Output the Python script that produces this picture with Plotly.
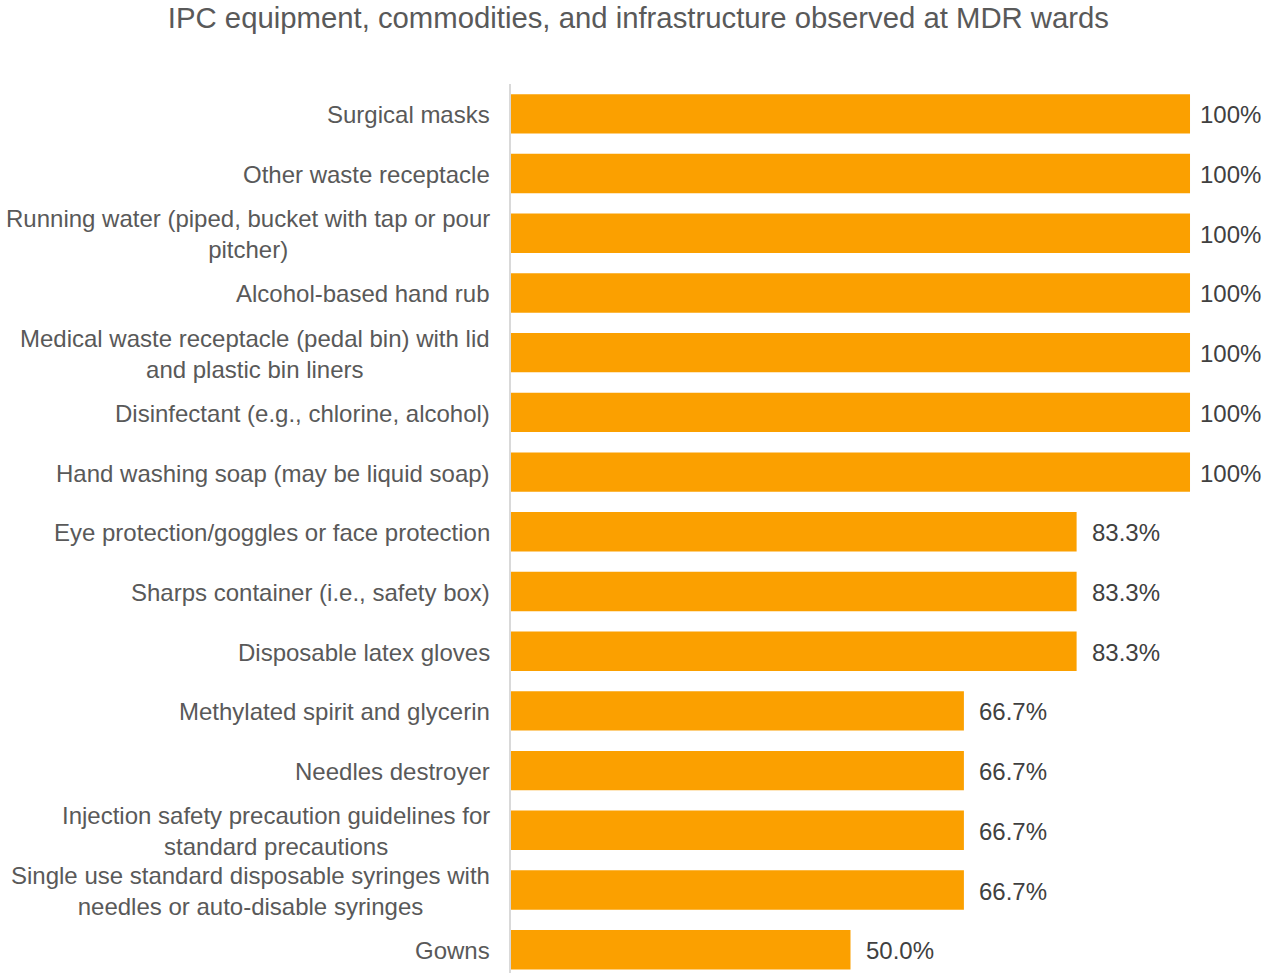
import plotly.graph_objects as go

# Items observed at MDR wards, top to bottom
categories = [
    "Surgical masks",
    "Other waste receptacle",
    "Running water (piped, bucket with tap or pour<br>pitcher)",
    "Alcohol-based hand rub",
    "Medical waste receptacle (pedal bin) with lid<br>and plastic bin liners",
    "Disinfectant (e.g., chlorine, alcohol)",
    "Hand washing soap (may be liquid soap)",
    "Eye protection/goggles or face protection",
    "Sharps container (i.e., safety box)",
    "Disposable latex gloves",
    "Methylated spirit and glycerin",
    "Needles destroyer",
    "Injection safety precaution guidelines for<br>standard precautions",
    "Single use standard disposable syringes with<br>needles or auto-disable syringes",
    "Gowns",
]

# Share of wards where the item was observed (%)
percent_observed = [100, 100, 100, 100, 100, 100, 100, 83.3, 83.3, 83.3, 66.7, 66.7, 66.7, 66.7, 50.0]

BAR_COLOR = "#FBA000"
LABEL_COLOR = "#595959"
VALUE_COLOR = "#404040"
FONT = "Liberation Sans, Arial, sans-serif"


def fmt(v):
    return "100%" if v >= 100 else f"{v:.1f}%"


fig = go.Figure(
    go.Bar(
        x=percent_observed,
        y=categories,
        orientation="h",
        marker=dict(color=BAR_COLOR, line=dict(width=0)),
        hoverinfo="skip",
    )
)

annotations = []
# Category labels: right-aligned block, lines centred within the block
for cat in categories:
    annotations.append(
        dict(
            x=0, xref="paper", y=cat, yref="y",
            text=cat, showarrow=False,
            xanchor="right", yanchor="middle", align="center",
            xshift=-19, yshift=-1,
            font=dict(family=FONT, size=24, color=LABEL_COLOR),
        )
    )
# Value labels just past the end of each bar
for cat, v in zip(categories, percent_observed):
    annotations.append(
        dict(
            x=v, xref="x", y=cat, yref="y",
            text=fmt(v), showarrow=False,
            xanchor="left", yanchor="middle",
            xshift=8 if v >= 100 else 13, yshift=-1,
            font=dict(family=FONT, size=24, color=VALUE_COLOR),
        )
    )

n = len(categories)
fig.update_layout(
    width=1263,
    height=973,
    margin=dict(l=511, r=0, t=84, b=0, pad=0),
    paper_bgcolor="white",
    plot_bgcolor="white",
    bargap=0.34,
    showlegend=False,
    title=dict(
        text="IPC equipment, commodities, and infrastructure observed at MDR wards",
        x=0.5055, xref="container", xanchor="center",
        y=0.982, yref="container", yanchor="middle",
        font=dict(family=FONT, size=29.3, color=LABEL_COLOR),
    ),
    xaxis=dict(
        range=[0, 110.75],
        visible=False,
        showgrid=False,
        zeroline=False,
    ),
    yaxis=dict(
        type="category",
        categoryorder="array",
        categoryarray=categories,
        range=[n - 1 + 0.39, -0.5],
        showticklabels=False,
        ticks="",
        showgrid=False,
        zeroline=False,
        showline=True,
        linecolor="#D9D9D9",
        linewidth=2,
    ),
    annotations=annotations,
)

fig.write_html("out.html")
